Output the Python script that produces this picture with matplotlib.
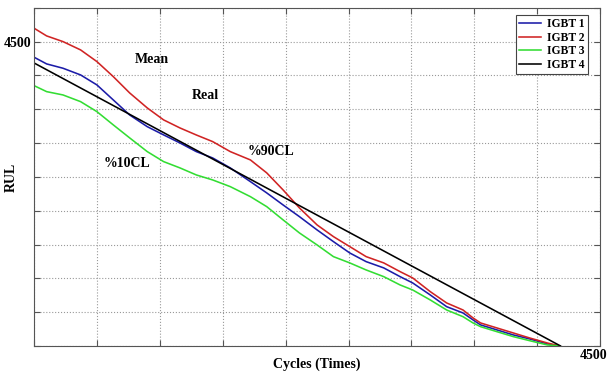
import numpy as np
import matplotlib.pyplot as plt
from matplotlib.transforms import ScaledTranslation

# cycles (x) and RUL values
x_pts = [0, 100, 230, 370, 500, 630, 760, 900, 1030, 1160, 1290, 1420, 1560,
         1720, 1850, 1980, 2110, 2250, 2380, 2510, 2640, 2780, 2910, 3010, 3150,
         3280, 3410, 3490, 3550, 3680, 3810, 3940, 4080, 4180]
igbt1 = [4270, 4171, 4107, 4008, 3860, 3638, 3416, 3243, 3121, 3002, 2874, 2780, 2633,
         2430, 2263, 2085, 1912, 1716, 1543, 1375, 1247, 1154, 1025, 932, 754,
         581, 488, 385, 311, 237, 163, 104, 30, 0]
igbt2 = [4699, 4585, 4501, 4378, 4205, 3983, 3742, 3520, 3343, 3224, 3120, 3022, 2874,
         2751, 2559, 2307, 2041, 1790, 1617, 1469, 1321, 1228, 1099, 1006, 803,
         636, 532, 414, 340, 266, 192, 118, 44, 0]
igbt3 = [3850, 3761, 3712, 3613, 3465, 3269, 3077, 2874, 2726, 2633, 2529, 2455, 2356,
         2208, 2060, 1864, 1671, 1494, 1321, 1228, 1124, 1025, 902, 828, 680,
         532, 433, 340, 285, 211, 138, 78, 15, 0]
igbt4_x = [0, 4185]
igbt4 = [4185, 0]

labels = ['IGBT 1', 'IGBT 2', 'IGBT 3', 'IGBT 4']
colors = ['#1c1ca8', '#d02424', '#33dd33', '#000000']

notes = [('Mean', 940, 4230), ('Real', 1360, 3710),
         ('%90CL', 1880, 2870), ('%10CL', 735, 2700)]

serif = ['Liberation Serif', 'DejaVu Serif']
plt.rcParams['font.family'] = serif
plt.rcParams['font.weight'] = 'bold'

fig = plt.figure(figsize=(6.08, 3.74), dpi=100)
ax = fig.add_axes([0.056, 0.075, 0.931, 0.904])

ax.plot(x_pts, igbt1, color=colors[0], lw=1.15, label=labels[0])
ax.plot(x_pts, igbt2, color=colors[1], lw=1.15, label=labels[1])
ax.plot(x_pts, igbt3, color=colors[2], lw=1.15, label=labels[2])
ax.plot(igbt4_x, igbt4, color=colors[3], lw=1.15, label=labels[3])

for txt, nx, ny in notes:
    ax.text(nx, ny, txt, ha='center', va='center', fontsize=10, fontweight='bold')

ax.set_xlim(0, 4500)
ax.set_ylim(0, 5000)
ax.set_xticks(np.arange(0, 4501, 500))
ax.set_yticks(np.arange(0, 5001, 500))
ax.set_xticklabels([''] * 9 + ['4500'])
ax.set_yticklabels([''] * 9 + ['4500', ''])
ax.tick_params(direction='in', top=True, right=True, length=4, width=0.8,
               color='#555555', labelsize=10, pad=2)
for lab in ax.get_xticklabels():
    lab.set_fontweight('bold')
    lab.set_transform(lab.get_transform() + ScaledTranslation(-0.07, 0, fig.dpi_scale_trans))
for lab in ax.get_yticklabels():
    lab.set_fontweight('bold')

ax.grid(True, linestyle=':', color='#999999', lw=0.8)
for s in ax.spines.values():
    s.set_color('#555555')
    s.set_linewidth(0.8)

ax.set_xlabel('Cycles (Times)', fontsize=10, fontweight='bold')
ax.set_ylabel('RUL', fontsize=10, fontweight='bold')
ax.xaxis.set_label_coords(0.5, -0.035)
ax.yaxis.set_label_coords(-0.028, 0.5)

leg = ax.legend(loc='upper right', bbox_to_anchor=(0.979, 0.979), frameon=True,
                fancybox=False, edgecolor='#444444', framealpha=1, handlelength=1.9,
                handletextpad=0.5, labelspacing=0.12, borderpad=0.3,
                borderaxespad=0,
                prop={'family': serif, 'weight': 'bold', 'size': 8.4})
leg.get_frame().set_linewidth(0.8)

fig.savefig('out.png', dpi=100)
